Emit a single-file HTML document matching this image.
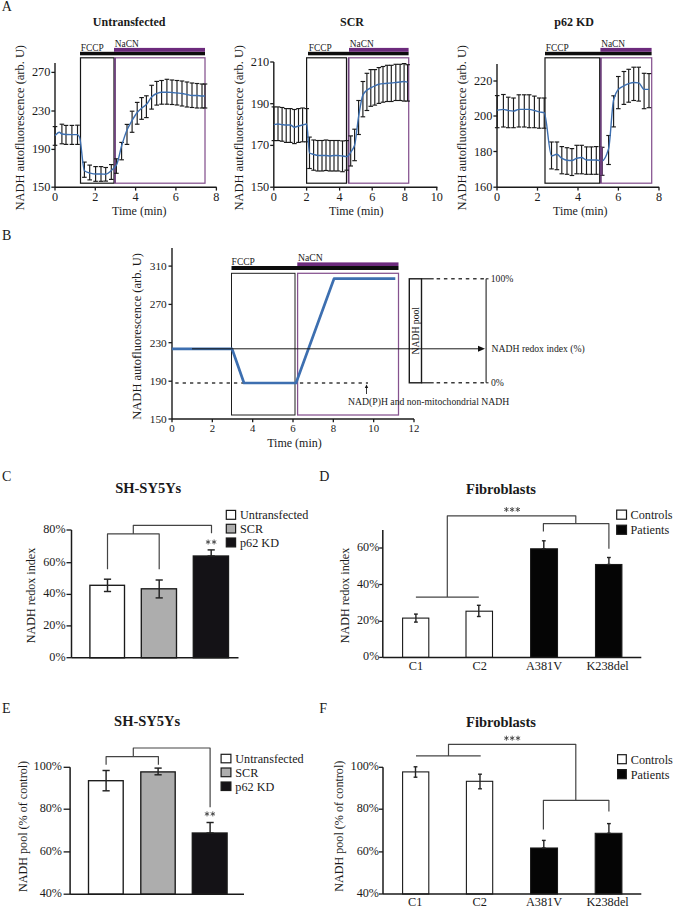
<!DOCTYPE html>
<html><head><meta charset="utf-8"><style>
html,body{margin:0;padding:0;background:#fff;overflow:hidden;}
svg{display:block;font-family:'Liberation Serif', serif;}
</style></head><body>
<svg width="675" height="908" viewBox="0 0 675 908">
<rect width="675" height="908" fill="#fff"/>
<text x="1.8" y="11" text-anchor="start" font-size="14" fill="#1a1a1a" >A</text>
<text x="2" y="239.9" text-anchor="start" font-size="14" fill="#1a1a1a" >B</text>
<text x="2" y="481.3" text-anchor="start" font-size="14" fill="#1a1a1a" >C</text>
<text x="319.3" y="481.3" text-anchor="start" font-size="14" fill="#1a1a1a" >D</text>
<text x="2" y="712.7" text-anchor="start" font-size="14" fill="#1a1a1a" >E</text>
<text x="319.2" y="712.7" text-anchor="start" font-size="14" fill="#1a1a1a" >F</text>
<text x="92.8" y="26.3" text-anchor="start" font-size="12" font-weight="bold" fill="#1a1a1a" >Untransfected</text>
<rect x="80" y="51.8" width="125" height="3.5" fill="#0d0d0d"/>
<rect x="114" y="47.9" width="91" height="3.9" fill="#6c2a7c"/>
<text x="80.8" y="50.6" text-anchor="start" font-size="9.4" fill="#1a1a1a" >FCCP</text>
<text x="114.8" y="47.1" text-anchor="start" font-size="9.4" fill="#1a1a1a" >NaCN</text>
<rect x="80.5" y="57.8" width="33.5" height="125.4" fill="none" stroke="#151515" stroke-width="1.2"/>
<rect x="115" y="57.8" width="90" height="125.4" fill="none" stroke="#85528f" stroke-width="1.25"/>
<line x1="115" y1="57.8" x2="115" y2="183.2" stroke="#6a3f78" stroke-width="1.6" />
<line x1="55" y1="63" x2="55" y2="187.2" stroke="#1a1a1a" stroke-width="1.4" />
<line x1="55" y1="187.2" x2="216.6" y2="187.2" stroke="#1a1a1a" stroke-width="1.4" />
<line x1="51.4" y1="72.4" x2="55" y2="72.4" stroke="#1a1a1a" stroke-width="1.3" />
<text x="50.4" y="76.4" text-anchor="end" font-size="12.3" fill="#1a1a1a" >270</text>
<line x1="51.4" y1="111" x2="55" y2="111" stroke="#1a1a1a" stroke-width="1.3" />
<text x="50.4" y="115" text-anchor="end" font-size="12.3" fill="#1a1a1a" >230</text>
<line x1="51.4" y1="149.4" x2="55" y2="149.4" stroke="#1a1a1a" stroke-width="1.3" />
<text x="50.4" y="153.4" text-anchor="end" font-size="12.3" fill="#1a1a1a" >190</text>
<line x1="51.4" y1="187.2" x2="55" y2="187.2" stroke="#1a1a1a" stroke-width="1.3" />
<text x="50.4" y="191.2" text-anchor="end" font-size="12.3" fill="#1a1a1a" >150</text>
<line x1="55" y1="187.2" x2="55" y2="190.6" stroke="#1a1a1a" stroke-width="1.3" />
<text x="55" y="201" text-anchor="middle" font-size="12.2" fill="#1a1a1a" >0</text>
<line x1="95.3" y1="187.2" x2="95.3" y2="190.6" stroke="#1a1a1a" stroke-width="1.3" />
<text x="95.3" y="201" text-anchor="middle" font-size="12.2" fill="#1a1a1a" >2</text>
<line x1="135.6" y1="187.2" x2="135.6" y2="190.6" stroke="#1a1a1a" stroke-width="1.3" />
<text x="135.6" y="201" text-anchor="middle" font-size="12.2" fill="#1a1a1a" >4</text>
<line x1="175.9" y1="187.2" x2="175.9" y2="190.6" stroke="#1a1a1a" stroke-width="1.3" />
<text x="175.9" y="201" text-anchor="middle" font-size="12.2" fill="#1a1a1a" >6</text>
<line x1="216.4" y1="187.2" x2="216.4" y2="190.6" stroke="#1a1a1a" stroke-width="1.3" />
<text x="216.4" y="201" text-anchor="middle" font-size="12.2" fill="#1a1a1a" >8</text>
<text x="112" y="214.6" text-anchor="start" font-size="12" fill="#1a1a1a" >Time (min)</text>
<text transform="translate(24,127.75) rotate(-90)" text-anchor="middle" font-size="12.4" fill="#1a1a1a"  textLength="165.5" lengthAdjust="spacingAndGlyphs">NADH autofluorescence (arb. U)</text>
<line x1="55" y1="126.6" x2="55" y2="145.3" stroke="#1a1a1a" stroke-width="1.15" />
<line x1="52.7" y1="126.6" x2="57.3" y2="126.6" stroke="#1a1a1a" stroke-width="1.15" />
<line x1="52.7" y1="145.3" x2="57.3" y2="145.3" stroke="#1a1a1a" stroke-width="1.15" />
<line x1="61.9" y1="124.2" x2="61.9" y2="143.8" stroke="#1a1a1a" stroke-width="1.15" />
<line x1="59.6" y1="124.2" x2="64.2" y2="124.2" stroke="#1a1a1a" stroke-width="1.15" />
<line x1="59.6" y1="143.8" x2="64.2" y2="143.8" stroke="#1a1a1a" stroke-width="1.15" />
<line x1="66" y1="125.4" x2="66" y2="144.4" stroke="#1a1a1a" stroke-width="1.15" />
<line x1="63.7" y1="125.4" x2="68.3" y2="125.4" stroke="#1a1a1a" stroke-width="1.15" />
<line x1="63.7" y1="144.4" x2="68.3" y2="144.4" stroke="#1a1a1a" stroke-width="1.15" />
<line x1="71.9" y1="125.4" x2="71.9" y2="144.4" stroke="#1a1a1a" stroke-width="1.15" />
<line x1="69.6" y1="125.4" x2="74.2" y2="125.4" stroke="#1a1a1a" stroke-width="1.15" />
<line x1="69.6" y1="144.4" x2="74.2" y2="144.4" stroke="#1a1a1a" stroke-width="1.15" />
<line x1="77.5" y1="125.2" x2="77.5" y2="144.4" stroke="#1a1a1a" stroke-width="1.15" />
<line x1="75.2" y1="125.2" x2="79.8" y2="125.2" stroke="#1a1a1a" stroke-width="1.15" />
<line x1="75.2" y1="144.4" x2="79.8" y2="144.4" stroke="#1a1a1a" stroke-width="1.15" />
<line x1="84.4" y1="162.1" x2="84.4" y2="177.3" stroke="#1a1a1a" stroke-width="1.15" />
<line x1="82.1" y1="162.1" x2="86.7" y2="162.1" stroke="#1a1a1a" stroke-width="1.15" />
<line x1="82.1" y1="177.3" x2="86.7" y2="177.3" stroke="#1a1a1a" stroke-width="1.15" />
<line x1="89.7" y1="165.1" x2="89.7" y2="179.9" stroke="#1a1a1a" stroke-width="1.15" />
<line x1="87.4" y1="165.1" x2="92" y2="165.1" stroke="#1a1a1a" stroke-width="1.15" />
<line x1="87.4" y1="179.9" x2="92" y2="179.9" stroke="#1a1a1a" stroke-width="1.15" />
<line x1="95.6" y1="166.6" x2="95.6" y2="181.3" stroke="#1a1a1a" stroke-width="1.15" />
<line x1="93.3" y1="166.6" x2="97.9" y2="166.6" stroke="#1a1a1a" stroke-width="1.15" />
<line x1="93.3" y1="181.3" x2="97.9" y2="181.3" stroke="#1a1a1a" stroke-width="1.15" />
<line x1="101" y1="166.6" x2="101" y2="181.3" stroke="#1a1a1a" stroke-width="1.15" />
<line x1="98.7" y1="166.6" x2="103.3" y2="166.6" stroke="#1a1a1a" stroke-width="1.15" />
<line x1="98.7" y1="181.3" x2="103.3" y2="181.3" stroke="#1a1a1a" stroke-width="1.15" />
<line x1="105.7" y1="167.5" x2="105.7" y2="181.1" stroke="#1a1a1a" stroke-width="1.15" />
<line x1="103.4" y1="167.5" x2="108" y2="167.5" stroke="#1a1a1a" stroke-width="1.15" />
<line x1="103.4" y1="181.1" x2="108" y2="181.1" stroke="#1a1a1a" stroke-width="1.15" />
<line x1="111.3" y1="164.6" x2="111.3" y2="179.4" stroke="#1a1a1a" stroke-width="1.15" />
<line x1="109" y1="164.6" x2="113.6" y2="164.6" stroke="#1a1a1a" stroke-width="1.15" />
<line x1="109" y1="179.4" x2="113.6" y2="179.4" stroke="#1a1a1a" stroke-width="1.15" />
<line x1="116.4" y1="158.8" x2="116.4" y2="173.3" stroke="#1a1a1a" stroke-width="1.15" />
<line x1="114.1" y1="158.8" x2="118.7" y2="158.8" stroke="#1a1a1a" stroke-width="1.15" />
<line x1="114.1" y1="173.3" x2="118.7" y2="173.3" stroke="#1a1a1a" stroke-width="1.15" />
<line x1="121.6" y1="142.4" x2="121.6" y2="159.8" stroke="#1a1a1a" stroke-width="1.15" />
<line x1="119.3" y1="142.4" x2="123.9" y2="142.4" stroke="#1a1a1a" stroke-width="1.15" />
<line x1="119.3" y1="159.8" x2="123.9" y2="159.8" stroke="#1a1a1a" stroke-width="1.15" />
<line x1="127" y1="124.4" x2="127" y2="144.4" stroke="#1a1a1a" stroke-width="1.15" />
<line x1="124.7" y1="124.4" x2="129.3" y2="124.4" stroke="#1a1a1a" stroke-width="1.15" />
<line x1="124.7" y1="144.4" x2="129.3" y2="144.4" stroke="#1a1a1a" stroke-width="1.15" />
<line x1="132.1" y1="111.2" x2="132.1" y2="132.3" stroke="#1a1a1a" stroke-width="1.15" />
<line x1="129.8" y1="111.2" x2="134.4" y2="111.2" stroke="#1a1a1a" stroke-width="1.15" />
<line x1="129.8" y1="132.3" x2="134.4" y2="132.3" stroke="#1a1a1a" stroke-width="1.15" />
<line x1="137.2" y1="102.4" x2="137.2" y2="124.2" stroke="#1a1a1a" stroke-width="1.15" />
<line x1="134.9" y1="102.4" x2="139.5" y2="102.4" stroke="#1a1a1a" stroke-width="1.15" />
<line x1="134.9" y1="124.2" x2="139.5" y2="124.2" stroke="#1a1a1a" stroke-width="1.15" />
<line x1="141.6" y1="97.6" x2="141.6" y2="119.3" stroke="#1a1a1a" stroke-width="1.15" />
<line x1="139.3" y1="97.6" x2="143.9" y2="97.6" stroke="#1a1a1a" stroke-width="1.15" />
<line x1="139.3" y1="119.3" x2="143.9" y2="119.3" stroke="#1a1a1a" stroke-width="1.15" />
<line x1="146.4" y1="95.8" x2="146.4" y2="117.6" stroke="#1a1a1a" stroke-width="1.15" />
<line x1="144.1" y1="95.8" x2="148.7" y2="95.8" stroke="#1a1a1a" stroke-width="1.15" />
<line x1="144.1" y1="117.6" x2="148.7" y2="117.6" stroke="#1a1a1a" stroke-width="1.15" />
<line x1="151.6" y1="85.3" x2="151.6" y2="109.1" stroke="#1a1a1a" stroke-width="1.15" />
<line x1="149.3" y1="85.3" x2="153.9" y2="85.3" stroke="#1a1a1a" stroke-width="1.15" />
<line x1="149.3" y1="109.1" x2="153.9" y2="109.1" stroke="#1a1a1a" stroke-width="1.15" />
<line x1="156.7" y1="81.4" x2="156.7" y2="105.1" stroke="#1a1a1a" stroke-width="1.15" />
<line x1="154.4" y1="81.4" x2="159" y2="81.4" stroke="#1a1a1a" stroke-width="1.15" />
<line x1="154.4" y1="105.1" x2="159" y2="105.1" stroke="#1a1a1a" stroke-width="1.15" />
<line x1="161.6" y1="80.5" x2="161.6" y2="104.2" stroke="#1a1a1a" stroke-width="1.15" />
<line x1="159.3" y1="80.5" x2="163.9" y2="80.5" stroke="#1a1a1a" stroke-width="1.15" />
<line x1="159.3" y1="104.2" x2="163.9" y2="104.2" stroke="#1a1a1a" stroke-width="1.15" />
<line x1="166.9" y1="79.3" x2="166.9" y2="104.2" stroke="#1a1a1a" stroke-width="1.15" />
<line x1="164.6" y1="79.3" x2="169.2" y2="79.3" stroke="#1a1a1a" stroke-width="1.15" />
<line x1="164.6" y1="104.2" x2="169.2" y2="104.2" stroke="#1a1a1a" stroke-width="1.15" />
<line x1="172" y1="80" x2="172" y2="104.5" stroke="#1a1a1a" stroke-width="1.15" />
<line x1="169.7" y1="80" x2="174.3" y2="80" stroke="#1a1a1a" stroke-width="1.15" />
<line x1="169.7" y1="104.5" x2="174.3" y2="104.5" stroke="#1a1a1a" stroke-width="1.15" />
<line x1="177" y1="80.5" x2="177" y2="105" stroke="#1a1a1a" stroke-width="1.15" />
<line x1="174.7" y1="80.5" x2="179.3" y2="80.5" stroke="#1a1a1a" stroke-width="1.15" />
<line x1="174.7" y1="105" x2="179.3" y2="105" stroke="#1a1a1a" stroke-width="1.15" />
<line x1="182" y1="81" x2="182" y2="106" stroke="#1a1a1a" stroke-width="1.15" />
<line x1="179.7" y1="81" x2="184.3" y2="81" stroke="#1a1a1a" stroke-width="1.15" />
<line x1="179.7" y1="106" x2="184.3" y2="106" stroke="#1a1a1a" stroke-width="1.15" />
<line x1="187" y1="82" x2="187" y2="107" stroke="#1a1a1a" stroke-width="1.15" />
<line x1="184.7" y1="82" x2="189.3" y2="82" stroke="#1a1a1a" stroke-width="1.15" />
<line x1="184.7" y1="107" x2="189.3" y2="107" stroke="#1a1a1a" stroke-width="1.15" />
<line x1="192" y1="83" x2="192" y2="107.5" stroke="#1a1a1a" stroke-width="1.15" />
<line x1="189.7" y1="83" x2="194.3" y2="83" stroke="#1a1a1a" stroke-width="1.15" />
<line x1="189.7" y1="107.5" x2="194.3" y2="107.5" stroke="#1a1a1a" stroke-width="1.15" />
<line x1="197" y1="83.5" x2="197" y2="108" stroke="#1a1a1a" stroke-width="1.15" />
<line x1="194.7" y1="83.5" x2="199.3" y2="83.5" stroke="#1a1a1a" stroke-width="1.15" />
<line x1="194.7" y1="108" x2="199.3" y2="108" stroke="#1a1a1a" stroke-width="1.15" />
<line x1="202" y1="84" x2="202" y2="108" stroke="#1a1a1a" stroke-width="1.15" />
<line x1="199.7" y1="84" x2="204.3" y2="84" stroke="#1a1a1a" stroke-width="1.15" />
<line x1="199.7" y1="108" x2="204.3" y2="108" stroke="#1a1a1a" stroke-width="1.15" />
<line x1="205" y1="84" x2="205" y2="108" stroke="#1a1a1a" stroke-width="1.15" />
<line x1="202.7" y1="84" x2="207.3" y2="84" stroke="#1a1a1a" stroke-width="1.15" />
<line x1="202.7" y1="108" x2="207.3" y2="108" stroke="#1a1a1a" stroke-width="1.15" />
<path d="M55,135.5 C56.4,134.4 57.8,132.2 59.2,132.2 C60.13,132.2 61.07,133.8 62,134 C63.33,134.29 64.67,134.46 66,134.5 C68,134.56 70,134.6 72,134.6 C73.83,134.6 75.67,134.6 77.5,134.6 C78.17,134.6 78.83,135.76 79.5,137 C81.13,140.04 82.77,169.35 84.4,170.7 C86.17,172.16 87.93,172.57 89.7,173 C91.67,173.48 93.63,174 95.6,174 C97.4,174 99.2,174 101,174 C102.57,174 104.13,174.2 105.7,174.2 C107.57,174.2 109.43,172.01 111.3,170.5 C113,169.12 114.7,167.95 116.4,165.2 C118.13,162.39 119.87,151.7 121.6,146 C123.4,140.08 125.2,134.14 127,130 C128.7,126.09 130.4,123.29 132.1,120.4 C133.8,117.51 135.5,114.53 137.2,112.5 C138.67,110.75 140.13,109.47 141.6,108.2 C143.2,106.82 144.8,106.1 146.4,104.5 C148.13,102.77 149.87,98.61 151.6,97 C153.3,95.42 155,94.15 156.7,93.5 C158.33,92.88 159.97,92.2 161.6,92.2 C163.37,92.2 165.13,92.2 166.9,92.2 C168.6,92.2 170.3,92.37 172,92.5 C173.67,92.62 175.33,92.83 177,93 C178.67,93.17 180.33,93.28 182,93.5 C183.67,93.72 185.33,94.17 187,94.5 C188.67,94.83 190.33,95.5 192,95.5 C193.67,95.5 195.33,95.5 197,95.5 C198.67,95.5 200.33,96 202,96 C203,96 204,96 205,96" fill="none" stroke="#3d6fb0" stroke-width="1.4"/>
<text x="340" y="26.3" text-anchor="start" font-size="12" font-weight="bold" fill="#1a1a1a" >SCR</text>
<rect x="308" y="51.8" width="100.6" height="3.5" fill="#0d0d0d"/>
<rect x="349" y="47.9" width="59.6" height="3.9" fill="#6c2a7c"/>
<text x="308.8" y="50.6" text-anchor="start" font-size="9.4" fill="#1a1a1a" >FCCP</text>
<text x="349.8" y="47.1" text-anchor="start" font-size="9.4" fill="#1a1a1a" >NaCN</text>
<rect x="306.6" y="57.8" width="39.9" height="125.4" fill="none" stroke="#151515" stroke-width="1.2"/>
<rect x="348.6" y="57.8" width="60.1" height="125.4" fill="none" stroke="#85528f" stroke-width="1.25"/>
<line x1="348.6" y1="57.8" x2="348.6" y2="183.2" stroke="#6a3f78" stroke-width="1.6" />
<line x1="273.8" y1="62" x2="273.8" y2="187.2" stroke="#1a1a1a" stroke-width="1.4" />
<line x1="273.8" y1="187.2" x2="437.4" y2="187.2" stroke="#1a1a1a" stroke-width="1.4" />
<line x1="270.2" y1="62" x2="273.8" y2="62" stroke="#1a1a1a" stroke-width="1.3" />
<text x="269.2" y="66" text-anchor="end" font-size="12.3" fill="#1a1a1a" >210</text>
<line x1="270.2" y1="103.7" x2="273.8" y2="103.7" stroke="#1a1a1a" stroke-width="1.3" />
<text x="269.2" y="107.7" text-anchor="end" font-size="12.3" fill="#1a1a1a" >190</text>
<line x1="270.2" y1="145.4" x2="273.8" y2="145.4" stroke="#1a1a1a" stroke-width="1.3" />
<text x="269.2" y="149.4" text-anchor="end" font-size="12.3" fill="#1a1a1a" >170</text>
<line x1="270.2" y1="187.2" x2="273.8" y2="187.2" stroke="#1a1a1a" stroke-width="1.3" />
<text x="269.2" y="191.2" text-anchor="end" font-size="12.3" fill="#1a1a1a" >150</text>
<line x1="273.8" y1="187.2" x2="273.8" y2="190.6" stroke="#1a1a1a" stroke-width="1.3" />
<text x="273.8" y="201" text-anchor="middle" font-size="12.2" fill="#1a1a1a" >0</text>
<line x1="306.6" y1="187.2" x2="306.6" y2="190.6" stroke="#1a1a1a" stroke-width="1.3" />
<text x="306.6" y="201" text-anchor="middle" font-size="12.2" fill="#1a1a1a" >2</text>
<line x1="339.6" y1="187.2" x2="339.6" y2="190.6" stroke="#1a1a1a" stroke-width="1.3" />
<text x="339.6" y="201" text-anchor="middle" font-size="12.2" fill="#1a1a1a" >4</text>
<line x1="372.2" y1="187.2" x2="372.2" y2="190.6" stroke="#1a1a1a" stroke-width="1.3" />
<text x="372.2" y="201" text-anchor="middle" font-size="12.2" fill="#1a1a1a" >6</text>
<line x1="404.8" y1="187.2" x2="404.8" y2="190.6" stroke="#1a1a1a" stroke-width="1.3" />
<text x="404.8" y="201" text-anchor="middle" font-size="12.2" fill="#1a1a1a" >8</text>
<line x1="436.8" y1="187.2" x2="436.8" y2="190.6" stroke="#1a1a1a" stroke-width="1.3" />
<text x="436.8" y="201" text-anchor="middle" font-size="12.2" fill="#1a1a1a" >10</text>
<text x="329" y="214.6" text-anchor="start" font-size="12" fill="#1a1a1a" >Time (min)</text>
<text transform="translate(243,127.75) rotate(-90)" text-anchor="middle" font-size="12.4" fill="#1a1a1a"  textLength="165.5" lengthAdjust="spacingAndGlyphs">NADH autofluorescence (arb. U)</text>
<line x1="273.9" y1="106.9" x2="273.9" y2="140.6" stroke="#1a1a1a" stroke-width="1.15" />
<line x1="271.6" y1="106.9" x2="276.2" y2="106.9" stroke="#1a1a1a" stroke-width="1.15" />
<line x1="271.6" y1="140.6" x2="276.2" y2="140.6" stroke="#1a1a1a" stroke-width="1.15" />
<line x1="278" y1="106.9" x2="278" y2="140.6" stroke="#1a1a1a" stroke-width="1.15" />
<line x1="275.7" y1="106.9" x2="280.3" y2="106.9" stroke="#1a1a1a" stroke-width="1.15" />
<line x1="275.7" y1="140.6" x2="280.3" y2="140.6" stroke="#1a1a1a" stroke-width="1.15" />
<line x1="282.1" y1="107.5" x2="282.1" y2="141.2" stroke="#1a1a1a" stroke-width="1.15" />
<line x1="279.8" y1="107.5" x2="284.4" y2="107.5" stroke="#1a1a1a" stroke-width="1.15" />
<line x1="279.8" y1="141.2" x2="284.4" y2="141.2" stroke="#1a1a1a" stroke-width="1.15" />
<line x1="286.2" y1="108.6" x2="286.2" y2="142.4" stroke="#1a1a1a" stroke-width="1.15" />
<line x1="283.9" y1="108.6" x2="288.5" y2="108.6" stroke="#1a1a1a" stroke-width="1.15" />
<line x1="283.9" y1="142.4" x2="288.5" y2="142.4" stroke="#1a1a1a" stroke-width="1.15" />
<line x1="290.3" y1="108.6" x2="290.3" y2="142.4" stroke="#1a1a1a" stroke-width="1.15" />
<line x1="288" y1="108.6" x2="292.6" y2="108.6" stroke="#1a1a1a" stroke-width="1.15" />
<line x1="288" y1="142.4" x2="292.6" y2="142.4" stroke="#1a1a1a" stroke-width="1.15" />
<line x1="294.4" y1="109.5" x2="294.4" y2="143.6" stroke="#1a1a1a" stroke-width="1.15" />
<line x1="292.1" y1="109.5" x2="296.7" y2="109.5" stroke="#1a1a1a" stroke-width="1.15" />
<line x1="292.1" y1="143.6" x2="296.7" y2="143.6" stroke="#1a1a1a" stroke-width="1.15" />
<line x1="298.5" y1="108.6" x2="298.5" y2="142.4" stroke="#1a1a1a" stroke-width="1.15" />
<line x1="296.2" y1="108.6" x2="300.8" y2="108.6" stroke="#1a1a1a" stroke-width="1.15" />
<line x1="296.2" y1="142.4" x2="300.8" y2="142.4" stroke="#1a1a1a" stroke-width="1.15" />
<line x1="302.6" y1="108" x2="302.6" y2="141.8" stroke="#1a1a1a" stroke-width="1.15" />
<line x1="300.3" y1="108" x2="304.9" y2="108" stroke="#1a1a1a" stroke-width="1.15" />
<line x1="300.3" y1="141.8" x2="304.9" y2="141.8" stroke="#1a1a1a" stroke-width="1.15" />
<line x1="306.7" y1="108.6" x2="306.7" y2="141.8" stroke="#1a1a1a" stroke-width="1.15" />
<line x1="304.4" y1="108.6" x2="309" y2="108.6" stroke="#1a1a1a" stroke-width="1.15" />
<line x1="304.4" y1="141.8" x2="309" y2="141.8" stroke="#1a1a1a" stroke-width="1.15" />
<line x1="309.5" y1="137.1" x2="309.5" y2="168.5" stroke="#1a1a1a" stroke-width="1.15" />
<line x1="307.2" y1="137.1" x2="311.8" y2="137.1" stroke="#1a1a1a" stroke-width="1.15" />
<line x1="307.2" y1="168.5" x2="311.8" y2="168.5" stroke="#1a1a1a" stroke-width="1.15" />
<line x1="313.6" y1="140" x2="313.6" y2="170.2" stroke="#1a1a1a" stroke-width="1.15" />
<line x1="311.3" y1="140" x2="315.9" y2="140" stroke="#1a1a1a" stroke-width="1.15" />
<line x1="311.3" y1="170.2" x2="315.9" y2="170.2" stroke="#1a1a1a" stroke-width="1.15" />
<line x1="317.8" y1="140.5" x2="317.8" y2="171" stroke="#1a1a1a" stroke-width="1.15" />
<line x1="315.5" y1="140.5" x2="320.1" y2="140.5" stroke="#1a1a1a" stroke-width="1.15" />
<line x1="315.5" y1="171" x2="320.1" y2="171" stroke="#1a1a1a" stroke-width="1.15" />
<line x1="322" y1="140.5" x2="322" y2="171" stroke="#1a1a1a" stroke-width="1.15" />
<line x1="319.7" y1="140.5" x2="324.3" y2="140.5" stroke="#1a1a1a" stroke-width="1.15" />
<line x1="319.7" y1="171" x2="324.3" y2="171" stroke="#1a1a1a" stroke-width="1.15" />
<line x1="326" y1="140" x2="326" y2="170.5" stroke="#1a1a1a" stroke-width="1.15" />
<line x1="323.7" y1="140" x2="328.3" y2="140" stroke="#1a1a1a" stroke-width="1.15" />
<line x1="323.7" y1="170.5" x2="328.3" y2="170.5" stroke="#1a1a1a" stroke-width="1.15" />
<line x1="330" y1="140.5" x2="330" y2="171" stroke="#1a1a1a" stroke-width="1.15" />
<line x1="327.7" y1="140.5" x2="332.3" y2="140.5" stroke="#1a1a1a" stroke-width="1.15" />
<line x1="327.7" y1="171" x2="332.3" y2="171" stroke="#1a1a1a" stroke-width="1.15" />
<line x1="334" y1="140.5" x2="334" y2="171" stroke="#1a1a1a" stroke-width="1.15" />
<line x1="331.7" y1="140.5" x2="336.3" y2="140.5" stroke="#1a1a1a" stroke-width="1.15" />
<line x1="331.7" y1="171" x2="336.3" y2="171" stroke="#1a1a1a" stroke-width="1.15" />
<line x1="338" y1="140.5" x2="338" y2="171" stroke="#1a1a1a" stroke-width="1.15" />
<line x1="335.7" y1="140.5" x2="340.3" y2="140.5" stroke="#1a1a1a" stroke-width="1.15" />
<line x1="335.7" y1="171" x2="340.3" y2="171" stroke="#1a1a1a" stroke-width="1.15" />
<line x1="342.5" y1="140.9" x2="342.5" y2="171.7" stroke="#1a1a1a" stroke-width="1.15" />
<line x1="340.2" y1="140.9" x2="344.8" y2="140.9" stroke="#1a1a1a" stroke-width="1.15" />
<line x1="340.2" y1="171.7" x2="344.8" y2="171.7" stroke="#1a1a1a" stroke-width="1.15" />
<line x1="346.7" y1="140.6" x2="346.7" y2="170.2" stroke="#1a1a1a" stroke-width="1.15" />
<line x1="344.4" y1="140.6" x2="349" y2="140.6" stroke="#1a1a1a" stroke-width="1.15" />
<line x1="344.4" y1="170.2" x2="349" y2="170.2" stroke="#1a1a1a" stroke-width="1.15" />
<line x1="350.7" y1="135.9" x2="350.7" y2="166" stroke="#1a1a1a" stroke-width="1.15" />
<line x1="348.4" y1="135.9" x2="353" y2="135.9" stroke="#1a1a1a" stroke-width="1.15" />
<line x1="348.4" y1="166" x2="353" y2="166" stroke="#1a1a1a" stroke-width="1.15" />
<line x1="354.6" y1="129.2" x2="354.6" y2="160.7" stroke="#1a1a1a" stroke-width="1.15" />
<line x1="352.3" y1="129.2" x2="356.9" y2="129.2" stroke="#1a1a1a" stroke-width="1.15" />
<line x1="352.3" y1="160.7" x2="356.9" y2="160.7" stroke="#1a1a1a" stroke-width="1.15" />
<line x1="358.6" y1="100.5" x2="358.6" y2="134.5" stroke="#1a1a1a" stroke-width="1.15" />
<line x1="356.3" y1="100.5" x2="360.9" y2="100.5" stroke="#1a1a1a" stroke-width="1.15" />
<line x1="356.3" y1="134.5" x2="360.9" y2="134.5" stroke="#1a1a1a" stroke-width="1.15" />
<line x1="362.9" y1="81.5" x2="362.9" y2="116.8" stroke="#1a1a1a" stroke-width="1.15" />
<line x1="360.6" y1="81.5" x2="365.2" y2="81.5" stroke="#1a1a1a" stroke-width="1.15" />
<line x1="360.6" y1="116.8" x2="365.2" y2="116.8" stroke="#1a1a1a" stroke-width="1.15" />
<line x1="366.9" y1="73.3" x2="366.9" y2="110.5" stroke="#1a1a1a" stroke-width="1.15" />
<line x1="364.6" y1="73.3" x2="369.2" y2="73.3" stroke="#1a1a1a" stroke-width="1.15" />
<line x1="364.6" y1="110.5" x2="369.2" y2="110.5" stroke="#1a1a1a" stroke-width="1.15" />
<line x1="370.8" y1="69.6" x2="370.8" y2="106.3" stroke="#1a1a1a" stroke-width="1.15" />
<line x1="368.5" y1="69.6" x2="373.1" y2="69.6" stroke="#1a1a1a" stroke-width="1.15" />
<line x1="368.5" y1="106.3" x2="373.1" y2="106.3" stroke="#1a1a1a" stroke-width="1.15" />
<line x1="374.8" y1="69.6" x2="374.8" y2="105.1" stroke="#1a1a1a" stroke-width="1.15" />
<line x1="372.5" y1="69.6" x2="377.1" y2="69.6" stroke="#1a1a1a" stroke-width="1.15" />
<line x1="372.5" y1="105.1" x2="377.1" y2="105.1" stroke="#1a1a1a" stroke-width="1.15" />
<line x1="378.9" y1="67.6" x2="378.9" y2="103.4" stroke="#1a1a1a" stroke-width="1.15" />
<line x1="376.6" y1="67.6" x2="381.2" y2="67.6" stroke="#1a1a1a" stroke-width="1.15" />
<line x1="376.6" y1="103.4" x2="381.2" y2="103.4" stroke="#1a1a1a" stroke-width="1.15" />
<line x1="383" y1="66.5" x2="383" y2="102.2" stroke="#1a1a1a" stroke-width="1.15" />
<line x1="380.7" y1="66.5" x2="385.3" y2="66.5" stroke="#1a1a1a" stroke-width="1.15" />
<line x1="380.7" y1="102.2" x2="385.3" y2="102.2" stroke="#1a1a1a" stroke-width="1.15" />
<line x1="387.2" y1="65.3" x2="387.2" y2="101.5" stroke="#1a1a1a" stroke-width="1.15" />
<line x1="384.9" y1="65.3" x2="389.5" y2="65.3" stroke="#1a1a1a" stroke-width="1.15" />
<line x1="384.9" y1="101.5" x2="389.5" y2="101.5" stroke="#1a1a1a" stroke-width="1.15" />
<line x1="391.3" y1="65.3" x2="391.3" y2="101.5" stroke="#1a1a1a" stroke-width="1.15" />
<line x1="389" y1="65.3" x2="393.6" y2="65.3" stroke="#1a1a1a" stroke-width="1.15" />
<line x1="389" y1="101.5" x2="393.6" y2="101.5" stroke="#1a1a1a" stroke-width="1.15" />
<line x1="395.8" y1="64.3" x2="395.8" y2="100.5" stroke="#1a1a1a" stroke-width="1.15" />
<line x1="393.5" y1="64.3" x2="398.1" y2="64.3" stroke="#1a1a1a" stroke-width="1.15" />
<line x1="393.5" y1="100.5" x2="398.1" y2="100.5" stroke="#1a1a1a" stroke-width="1.15" />
<line x1="400.1" y1="64.3" x2="400.1" y2="100.5" stroke="#1a1a1a" stroke-width="1.15" />
<line x1="397.8" y1="64.3" x2="402.4" y2="64.3" stroke="#1a1a1a" stroke-width="1.15" />
<line x1="397.8" y1="100.5" x2="402.4" y2="100.5" stroke="#1a1a1a" stroke-width="1.15" />
<line x1="404.1" y1="63.6" x2="404.1" y2="101.1" stroke="#1a1a1a" stroke-width="1.15" />
<line x1="401.8" y1="63.6" x2="406.4" y2="63.6" stroke="#1a1a1a" stroke-width="1.15" />
<line x1="401.8" y1="101.1" x2="406.4" y2="101.1" stroke="#1a1a1a" stroke-width="1.15" />
<line x1="407.6" y1="64.7" x2="407.6" y2="101.1" stroke="#1a1a1a" stroke-width="1.15" />
<line x1="405.3" y1="64.7" x2="409.9" y2="64.7" stroke="#1a1a1a" stroke-width="1.15" />
<line x1="405.3" y1="101.1" x2="409.9" y2="101.1" stroke="#1a1a1a" stroke-width="1.15" />
<path d="M273.9,124.6 C275.27,124.4 276.63,124 278,124 C279.37,124 280.73,124.44 282.1,124.6 C283.47,124.76 284.83,125 286.2,125 C287.57,125 288.93,125 290.3,125 C291.67,125 293.03,127.2 294.4,127.2 C295.77,127.2 297.13,126.36 298.5,126 C299.87,125.64 301.23,125.33 302.6,125 C303.97,124.67 305.33,124 306.7,124 C307.63,124 308.57,152.39 309.5,153 C310.87,153.89 312.23,153.89 313.6,154.3 C315,154.72 316.4,155.5 317.8,155.5 C319.2,155.5 320.6,155.5 322,155.5 C323.33,155.5 324.67,155.5 326,155.5 C327.33,155.5 328.67,156 330,156 C331.33,156 332.67,155.5 334,155.5 C335.33,155.5 336.67,155.5 338,155.5 C339.5,155.5 341,155.81 342.5,156 C343.9,156.18 345.3,156.6 346.7,156.6 C348.03,156.6 349.37,154.19 350.7,152.4 C352,150.66 353.3,149.01 354.6,145.2 C355.93,141.3 357.27,124.46 358.6,116.6 C360.03,108.15 361.47,97.95 362.9,95.1 C364.23,92.45 365.57,91.13 366.9,90.1 C368.2,89.09 369.5,88.61 370.8,87.9 C372.13,87.17 373.47,86.38 374.8,85.8 C376.17,85.21 377.53,84.62 378.9,84.3 C380.27,83.98 381.63,83.77 383,83.6 C384.4,83.43 385.8,83.29 387.2,83.2 C388.57,83.11 389.93,83.09 391.3,83 C392.8,82.9 394.3,82.67 395.8,82.5 C397.23,82.34 398.67,82.17 400.1,82 C401.43,81.84 402.77,81.5 404.1,81.5 C405.27,81.5 406.43,81.97 407.6,82.2" fill="none" stroke="#3d6fb0" stroke-width="1.4"/>
<text x="554.3" y="26.3" text-anchor="start" font-size="12" font-weight="bold" fill="#1a1a1a" >p62 KD</text>
<rect x="545" y="51.8" width="106.6" height="3.5" fill="#0d0d0d"/>
<rect x="600.4" y="47.9" width="51.2" height="3.9" fill="#6c2a7c"/>
<text x="545.8" y="50.6" text-anchor="start" font-size="9.4" fill="#1a1a1a" >FCCP</text>
<text x="601.2" y="47.1" text-anchor="start" font-size="9.4" fill="#1a1a1a" >NaCN</text>
<rect x="545" y="57.8" width="54.7" height="125.4" fill="none" stroke="#151515" stroke-width="1.2"/>
<rect x="600.8" y="57.8" width="50.9" height="125.4" fill="none" stroke="#85528f" stroke-width="1.25"/>
<line x1="600.8" y1="57.8" x2="600.8" y2="183.2" stroke="#6a3f78" stroke-width="1.6" />
<line x1="497" y1="64" x2="497" y2="187.2" stroke="#1a1a1a" stroke-width="1.4" />
<line x1="497" y1="187.2" x2="659.2" y2="187.2" stroke="#1a1a1a" stroke-width="1.4" />
<line x1="493.4" y1="81" x2="497" y2="81" stroke="#1a1a1a" stroke-width="1.3" />
<text x="492.4" y="85" text-anchor="end" font-size="12.3" fill="#1a1a1a" >220</text>
<line x1="493.4" y1="116" x2="497" y2="116" stroke="#1a1a1a" stroke-width="1.3" />
<text x="492.4" y="120" text-anchor="end" font-size="12.3" fill="#1a1a1a" >200</text>
<line x1="493.4" y1="151.5" x2="497" y2="151.5" stroke="#1a1a1a" stroke-width="1.3" />
<text x="492.4" y="155.5" text-anchor="end" font-size="12.3" fill="#1a1a1a" >180</text>
<line x1="493.4" y1="187.2" x2="497" y2="187.2" stroke="#1a1a1a" stroke-width="1.3" />
<text x="492.4" y="191.2" text-anchor="end" font-size="12.3" fill="#1a1a1a" >160</text>
<line x1="497" y1="187.2" x2="497" y2="190.6" stroke="#1a1a1a" stroke-width="1.3" />
<text x="497" y="201" text-anchor="middle" font-size="12.2" fill="#1a1a1a" >0</text>
<line x1="537.5" y1="187.2" x2="537.5" y2="190.6" stroke="#1a1a1a" stroke-width="1.3" />
<text x="537.5" y="201" text-anchor="middle" font-size="12.2" fill="#1a1a1a" >2</text>
<line x1="578" y1="187.2" x2="578" y2="190.6" stroke="#1a1a1a" stroke-width="1.3" />
<text x="578" y="201" text-anchor="middle" font-size="12.2" fill="#1a1a1a" >4</text>
<line x1="618.4" y1="187.2" x2="618.4" y2="190.6" stroke="#1a1a1a" stroke-width="1.3" />
<text x="618.4" y="201" text-anchor="middle" font-size="12.2" fill="#1a1a1a" >6</text>
<line x1="659" y1="187.2" x2="659" y2="190.6" stroke="#1a1a1a" stroke-width="1.3" />
<text x="659" y="201" text-anchor="middle" font-size="12.2" fill="#1a1a1a" >8</text>
<text x="553" y="214.6" text-anchor="start" font-size="12" fill="#1a1a1a" >Time (min)</text>
<text transform="translate(465.8,127.75) rotate(-90)" text-anchor="middle" font-size="12.4" fill="#1a1a1a"  textLength="165.5" lengthAdjust="spacingAndGlyphs">NADH autofluorescence (arb. U)</text>
<line x1="497.2" y1="95.6" x2="497.2" y2="127.7" stroke="#1a1a1a" stroke-width="1.15" />
<line x1="494.9" y1="95.6" x2="499.5" y2="95.6" stroke="#1a1a1a" stroke-width="1.15" />
<line x1="494.9" y1="127.7" x2="499.5" y2="127.7" stroke="#1a1a1a" stroke-width="1.15" />
<line x1="503.4" y1="94.5" x2="503.4" y2="127" stroke="#1a1a1a" stroke-width="1.15" />
<line x1="501.1" y1="94.5" x2="505.7" y2="94.5" stroke="#1a1a1a" stroke-width="1.15" />
<line x1="501.1" y1="127" x2="505.7" y2="127" stroke="#1a1a1a" stroke-width="1.15" />
<line x1="508.3" y1="97.2" x2="508.3" y2="127.7" stroke="#1a1a1a" stroke-width="1.15" />
<line x1="506" y1="97.2" x2="510.6" y2="97.2" stroke="#1a1a1a" stroke-width="1.15" />
<line x1="506" y1="127.7" x2="510.6" y2="127.7" stroke="#1a1a1a" stroke-width="1.15" />
<line x1="513.5" y1="98" x2="513.5" y2="127.7" stroke="#1a1a1a" stroke-width="1.15" />
<line x1="511.2" y1="98" x2="515.8" y2="98" stroke="#1a1a1a" stroke-width="1.15" />
<line x1="511.2" y1="127.7" x2="515.8" y2="127.7" stroke="#1a1a1a" stroke-width="1.15" />
<line x1="518.9" y1="94.8" x2="518.9" y2="127" stroke="#1a1a1a" stroke-width="1.15" />
<line x1="516.6" y1="94.8" x2="521.2" y2="94.8" stroke="#1a1a1a" stroke-width="1.15" />
<line x1="516.6" y1="127" x2="521.2" y2="127" stroke="#1a1a1a" stroke-width="1.15" />
<line x1="524.3" y1="94.8" x2="524.3" y2="127" stroke="#1a1a1a" stroke-width="1.15" />
<line x1="522" y1="94.8" x2="526.6" y2="94.8" stroke="#1a1a1a" stroke-width="1.15" />
<line x1="522" y1="127" x2="526.6" y2="127" stroke="#1a1a1a" stroke-width="1.15" />
<line x1="529.2" y1="94.8" x2="529.2" y2="127.7" stroke="#1a1a1a" stroke-width="1.15" />
<line x1="526.9" y1="94.8" x2="531.5" y2="94.8" stroke="#1a1a1a" stroke-width="1.15" />
<line x1="526.9" y1="127.7" x2="531.5" y2="127.7" stroke="#1a1a1a" stroke-width="1.15" />
<line x1="534.4" y1="96.1" x2="534.4" y2="127.7" stroke="#1a1a1a" stroke-width="1.15" />
<line x1="532.1" y1="96.1" x2="536.7" y2="96.1" stroke="#1a1a1a" stroke-width="1.15" />
<line x1="532.1" y1="127.7" x2="536.7" y2="127.7" stroke="#1a1a1a" stroke-width="1.15" />
<line x1="539.3" y1="98" x2="539.3" y2="128.2" stroke="#1a1a1a" stroke-width="1.15" />
<line x1="537" y1="98" x2="541.6" y2="98" stroke="#1a1a1a" stroke-width="1.15" />
<line x1="537" y1="128.2" x2="541.6" y2="128.2" stroke="#1a1a1a" stroke-width="1.15" />
<line x1="544.2" y1="98" x2="544.2" y2="128.2" stroke="#1a1a1a" stroke-width="1.15" />
<line x1="541.9" y1="98" x2="546.5" y2="98" stroke="#1a1a1a" stroke-width="1.15" />
<line x1="541.9" y1="128.2" x2="546.5" y2="128.2" stroke="#1a1a1a" stroke-width="1.15" />
<line x1="551.5" y1="142" x2="551.5" y2="168.9" stroke="#1a1a1a" stroke-width="1.15" />
<line x1="549.2" y1="142" x2="553.8" y2="142" stroke="#1a1a1a" stroke-width="1.15" />
<line x1="549.2" y1="168.9" x2="553.8" y2="168.9" stroke="#1a1a1a" stroke-width="1.15" />
<line x1="556.9" y1="142" x2="556.9" y2="169.7" stroke="#1a1a1a" stroke-width="1.15" />
<line x1="554.6" y1="142" x2="559.2" y2="142" stroke="#1a1a1a" stroke-width="1.15" />
<line x1="554.6" y1="169.7" x2="559.2" y2="169.7" stroke="#1a1a1a" stroke-width="1.15" />
<line x1="561.8" y1="146.6" x2="561.8" y2="173.8" stroke="#1a1a1a" stroke-width="1.15" />
<line x1="559.5" y1="146.6" x2="564.1" y2="146.6" stroke="#1a1a1a" stroke-width="1.15" />
<line x1="559.5" y1="173.8" x2="564.1" y2="173.8" stroke="#1a1a1a" stroke-width="1.15" />
<line x1="567" y1="147.7" x2="567" y2="174.3" stroke="#1a1a1a" stroke-width="1.15" />
<line x1="564.7" y1="147.7" x2="569.3" y2="147.7" stroke="#1a1a1a" stroke-width="1.15" />
<line x1="564.7" y1="174.3" x2="569.3" y2="174.3" stroke="#1a1a1a" stroke-width="1.15" />
<line x1="571.9" y1="148.6" x2="571.9" y2="175.5" stroke="#1a1a1a" stroke-width="1.15" />
<line x1="569.6" y1="148.6" x2="574.2" y2="148.6" stroke="#1a1a1a" stroke-width="1.15" />
<line x1="569.6" y1="175.5" x2="574.2" y2="175.5" stroke="#1a1a1a" stroke-width="1.15" />
<line x1="576.7" y1="145.3" x2="576.7" y2="173.8" stroke="#1a1a1a" stroke-width="1.15" />
<line x1="574.4" y1="145.3" x2="579" y2="145.3" stroke="#1a1a1a" stroke-width="1.15" />
<line x1="574.4" y1="173.8" x2="579" y2="173.8" stroke="#1a1a1a" stroke-width="1.15" />
<line x1="581.6" y1="145.3" x2="581.6" y2="173.8" stroke="#1a1a1a" stroke-width="1.15" />
<line x1="579.3" y1="145.3" x2="583.9" y2="145.3" stroke="#1a1a1a" stroke-width="1.15" />
<line x1="579.3" y1="173.8" x2="583.9" y2="173.8" stroke="#1a1a1a" stroke-width="1.15" />
<line x1="586.5" y1="146.9" x2="586.5" y2="174.3" stroke="#1a1a1a" stroke-width="1.15" />
<line x1="584.2" y1="146.9" x2="588.8" y2="146.9" stroke="#1a1a1a" stroke-width="1.15" />
<line x1="584.2" y1="174.3" x2="588.8" y2="174.3" stroke="#1a1a1a" stroke-width="1.15" />
<line x1="591.4" y1="146.9" x2="591.4" y2="174.3" stroke="#1a1a1a" stroke-width="1.15" />
<line x1="589.1" y1="146.9" x2="593.7" y2="146.9" stroke="#1a1a1a" stroke-width="1.15" />
<line x1="589.1" y1="174.3" x2="593.7" y2="174.3" stroke="#1a1a1a" stroke-width="1.15" />
<line x1="596.3" y1="146.6" x2="596.3" y2="174.3" stroke="#1a1a1a" stroke-width="1.15" />
<line x1="594" y1="146.6" x2="598.6" y2="146.6" stroke="#1a1a1a" stroke-width="1.15" />
<line x1="594" y1="174.3" x2="598.6" y2="174.3" stroke="#1a1a1a" stroke-width="1.15" />
<line x1="602.2" y1="147.3" x2="602.2" y2="175.3" stroke="#1a1a1a" stroke-width="1.15" />
<line x1="599.9" y1="147.3" x2="604.5" y2="147.3" stroke="#1a1a1a" stroke-width="1.15" />
<line x1="599.9" y1="175.3" x2="604.5" y2="175.3" stroke="#1a1a1a" stroke-width="1.15" />
<line x1="608.6" y1="135.5" x2="608.6" y2="164.5" stroke="#1a1a1a" stroke-width="1.15" />
<line x1="606.3" y1="135.5" x2="610.9" y2="135.5" stroke="#1a1a1a" stroke-width="1.15" />
<line x1="606.3" y1="164.5" x2="610.9" y2="164.5" stroke="#1a1a1a" stroke-width="1.15" />
<line x1="613.6" y1="95.8" x2="613.6" y2="126.9" stroke="#1a1a1a" stroke-width="1.15" />
<line x1="611.3" y1="95.8" x2="615.9" y2="95.8" stroke="#1a1a1a" stroke-width="1.15" />
<line x1="611.3" y1="126.9" x2="615.9" y2="126.9" stroke="#1a1a1a" stroke-width="1.15" />
<line x1="618.3" y1="76.5" x2="618.3" y2="108.7" stroke="#1a1a1a" stroke-width="1.15" />
<line x1="616" y1="76.5" x2="620.6" y2="76.5" stroke="#1a1a1a" stroke-width="1.15" />
<line x1="616" y1="108.7" x2="620.6" y2="108.7" stroke="#1a1a1a" stroke-width="1.15" />
<line x1="623.9" y1="71.5" x2="623.9" y2="104.4" stroke="#1a1a1a" stroke-width="1.15" />
<line x1="621.6" y1="71.5" x2="626.2" y2="71.5" stroke="#1a1a1a" stroke-width="1.15" />
<line x1="621.6" y1="104.4" x2="626.2" y2="104.4" stroke="#1a1a1a" stroke-width="1.15" />
<line x1="628.7" y1="69.3" x2="628.7" y2="102.2" stroke="#1a1a1a" stroke-width="1.15" />
<line x1="626.4" y1="69.3" x2="631" y2="69.3" stroke="#1a1a1a" stroke-width="1.15" />
<line x1="626.4" y1="102.2" x2="631" y2="102.2" stroke="#1a1a1a" stroke-width="1.15" />
<line x1="633.7" y1="67.2" x2="633.7" y2="100.5" stroke="#1a1a1a" stroke-width="1.15" />
<line x1="631.4" y1="67.2" x2="636" y2="67.2" stroke="#1a1a1a" stroke-width="1.15" />
<line x1="631.4" y1="100.5" x2="636" y2="100.5" stroke="#1a1a1a" stroke-width="1.15" />
<line x1="638.7" y1="67.2" x2="638.7" y2="101.1" stroke="#1a1a1a" stroke-width="1.15" />
<line x1="636.4" y1="67.2" x2="641" y2="67.2" stroke="#1a1a1a" stroke-width="1.15" />
<line x1="636.4" y1="101.1" x2="641" y2="101.1" stroke="#1a1a1a" stroke-width="1.15" />
<line x1="644.1" y1="73.3" x2="644.1" y2="108.7" stroke="#1a1a1a" stroke-width="1.15" />
<line x1="641.8" y1="73.3" x2="646.4" y2="73.3" stroke="#1a1a1a" stroke-width="1.15" />
<line x1="641.8" y1="108.7" x2="646.4" y2="108.7" stroke="#1a1a1a" stroke-width="1.15" />
<line x1="649" y1="73.6" x2="649" y2="107.7" stroke="#1a1a1a" stroke-width="1.15" />
<line x1="646.7" y1="73.6" x2="651.3" y2="73.6" stroke="#1a1a1a" stroke-width="1.15" />
<line x1="646.7" y1="107.7" x2="651.3" y2="107.7" stroke="#1a1a1a" stroke-width="1.15" />
<path d="M497.2,110.3 C499.27,110 501.33,109.4 503.4,109.4 C505.03,109.4 506.67,110.25 508.3,110.5 C510.03,110.77 511.77,111.1 513.5,111.1 C515.3,111.1 517.1,109.4 518.9,109.4 C520.7,109.4 522.5,109.4 524.3,109.4 C525.93,109.4 527.57,109.4 529.2,109.4 C530.93,109.4 532.67,110.08 534.4,110.5 C536.03,110.9 537.67,111.56 539.3,111.9 C540.93,112.24 542.57,112.21 544.2,112.7 C546.63,113.43 549.07,155.9 551.5,155.9 C553.3,155.9 555.1,154.3 556.9,154.3 C558.53,154.3 560.17,157.44 561.8,158.3 C563.53,159.21 565.27,160.17 567,160.3 C568.63,160.42 570.27,160.5 571.9,160.5 C573.5,160.5 575.1,158.69 576.7,158.3 C578.33,157.91 579.97,157.5 581.6,157.5 C583.23,157.5 584.87,160 586.5,160 C588.13,160 589.77,160 591.4,160 C593.03,160 594.67,160 596.3,160 C598.27,160 600.23,160.9 602.2,160.9 C604.33,160.9 606.47,155.75 608.6,148.8 C610.27,143.37 611.93,106.07 613.6,100 C615.17,94.3 616.73,90.99 618.3,89.4 C620.17,87.5 622.03,86.79 623.9,85.8 C625.5,84.95 627.1,84.08 628.7,83.6 C630.37,83.1 632.03,82.5 633.7,82.5 C635.37,82.5 637.03,82.65 638.7,82.9 C640.5,83.17 642.3,89.4 644.1,89.4 C645.73,89.4 647.37,89.4 649,89.4" fill="none" stroke="#3d6fb0" stroke-width="1.4"/>
<rect x="599.8" y="146.8" width="2.8" height="28.7" fill="#6d3d7b"/>
<line x1="172" y1="248" x2="172" y2="419" stroke="#1a1a1a" stroke-width="1.4" />
<line x1="172" y1="419" x2="414" y2="419" stroke="#1a1a1a" stroke-width="1.4" />
<line x1="168.5" y1="266.1" x2="172" y2="266.1" stroke="#1a1a1a" stroke-width="1.3" />
<text x="166.7" y="270" text-anchor="end" font-size="11.3" fill="#1a1a1a" >310</text>
<line x1="168.5" y1="304.4" x2="172" y2="304.4" stroke="#1a1a1a" stroke-width="1.3" />
<text x="166.7" y="308.3" text-anchor="end" font-size="11.3" fill="#1a1a1a" >270</text>
<line x1="168.5" y1="342.7" x2="172" y2="342.7" stroke="#1a1a1a" stroke-width="1.3" />
<text x="166.7" y="346.6" text-anchor="end" font-size="11.3" fill="#1a1a1a" >230</text>
<line x1="168.5" y1="381.2" x2="172" y2="381.2" stroke="#1a1a1a" stroke-width="1.3" />
<text x="166.7" y="385.1" text-anchor="end" font-size="11.3" fill="#1a1a1a" >190</text>
<line x1="168.5" y1="419" x2="172" y2="419" stroke="#1a1a1a" stroke-width="1.3" />
<text x="166.7" y="422.9" text-anchor="end" font-size="11.3" fill="#1a1a1a" >150</text>
<line x1="172" y1="419" x2="172" y2="422.3" stroke="#1a1a1a" stroke-width="1.3" />
<text x="172" y="432" text-anchor="middle" font-size="10.8" fill="#1a1a1a" >0</text>
<line x1="212.33" y1="419" x2="212.33" y2="422.3" stroke="#1a1a1a" stroke-width="1.3" />
<text x="212.33" y="432" text-anchor="middle" font-size="10.8" fill="#1a1a1a" >2</text>
<line x1="252.67" y1="419" x2="252.67" y2="422.3" stroke="#1a1a1a" stroke-width="1.3" />
<text x="252.67" y="432" text-anchor="middle" font-size="10.8" fill="#1a1a1a" >4</text>
<line x1="293" y1="419" x2="293" y2="422.3" stroke="#1a1a1a" stroke-width="1.3" />
<text x="293" y="432" text-anchor="middle" font-size="10.8" fill="#1a1a1a" >6</text>
<line x1="333.33" y1="419" x2="333.33" y2="422.3" stroke="#1a1a1a" stroke-width="1.3" />
<text x="333.33" y="432" text-anchor="middle" font-size="10.8" fill="#1a1a1a" >8</text>
<line x1="373.67" y1="419" x2="373.67" y2="422.3" stroke="#1a1a1a" stroke-width="1.3" />
<text x="373.67" y="432" text-anchor="middle" font-size="10.8" fill="#1a1a1a" >10</text>
<line x1="414" y1="419" x2="414" y2="422.3" stroke="#1a1a1a" stroke-width="1.3" />
<text x="414" y="432" text-anchor="middle" font-size="10.8" fill="#1a1a1a" >12</text>
<text x="267.2" y="447" text-anchor="start" font-size="12" fill="#1a1a1a" >Time (min)</text>
<text transform="translate(140.9,336.4) rotate(-90)" text-anchor="middle" font-size="12.5" fill="#1a1a1a" >NADH autofluorescence (arb. U)</text>
<rect x="231.5" y="266" width="167" height="4" fill="#0d0d0d"/>
<rect x="297.3" y="262.4" width="101.2" height="3.6" fill="#6c2a7c"/>
<text x="231.6" y="265.3" text-anchor="start" font-size="9.5" fill="#1a1a1a" >FCCP</text>
<text x="298" y="261.4" text-anchor="start" font-size="9.7" fill="#1a1a1a" >NaCN</text>
<rect x="231.5" y="273.3" width="63.5" height="141.7" fill="none" stroke="#1e1e1e" stroke-width="1"/>
<rect x="297.6" y="273.3" width="100.9" height="141.7" fill="none" stroke="#85528f" stroke-width="1.25"/>
<line x1="175.3" y1="383" x2="368" y2="383" stroke="#3a3a3a" stroke-width="1.5" stroke-dasharray="3.33 4"/>
<polyline points="172,348.8 232,348.8 244,383 296,383 334,278.7 395.3,278.7" fill="none" stroke="#3d6fb0" stroke-width="2.7" stroke-linejoin="round" />
<line x1="192" y1="348.8" x2="480" y2="348.8" stroke="#1a1a1a" stroke-width="1" />
<polygon points="478,345.8 485,348.8 478,351.8" fill="#111"/>
<line x1="366.5" y1="394" x2="366.5" y2="387" stroke="#222" stroke-width="0.9" />
<polygon points="364.8,388 366.5,384.6 368.2,388" fill="#111"/>
<text x="348.1" y="404.5" text-anchor="start" font-size="9.7" fill="#1a1a1a" >NAD(P)H and non-mitochondrial NADH</text>
<rect x="409.3" y="278.8" width="12.2" height="104" fill="none" stroke="#1a1a1a" stroke-width="1.4"/>
<text transform="translate(419.3,330.8) rotate(-90)" text-anchor="middle" font-size="9.7" fill="#1a1a1a" >NADH pool</text>
<line x1="421.3" y1="278.8" x2="433.7" y2="278.8" stroke="#1a1a1a" stroke-width="1.2" />
<line x1="421.3" y1="382.8" x2="433.7" y2="382.8" stroke="#1a1a1a" stroke-width="1.2" />
<line x1="436.6" y1="278.8" x2="485" y2="278.8" stroke="#3a3a3a" stroke-width="1.4" stroke-dasharray="3.5 3.8"/>
<line x1="436.6" y1="382.8" x2="485" y2="382.8" stroke="#3a3a3a" stroke-width="1.4" stroke-dasharray="3.5 3.8"/>
<line x1="486.1" y1="278.8" x2="486.1" y2="382.8" stroke="#222" stroke-width="1.1" />
<line x1="486.1" y1="278.8" x2="488.5" y2="278.8" stroke="#222" stroke-width="1.1" />
<line x1="486.1" y1="382.8" x2="488.5" y2="382.8" stroke="#222" stroke-width="1.1" />
<text x="490.7" y="282.2" text-anchor="start" font-size="9.7" fill="#1a1a1a" >100%</text>
<text x="491.5" y="352.4" text-anchor="start" font-size="9.7" fill="#1a1a1a" >NADH redox index (%)</text>
<text x="491" y="386.4" text-anchor="start" font-size="9.7" fill="#1a1a1a" >0%</text>
<text x="115.2" y="493.3" text-anchor="start" font-size="14.5" font-weight="bold" fill="#1a1a1a" >SH-SY5Ys</text>
<rect x="89.9" y="585.3" width="34.6" height="72.5" fill="#fff" stroke="#1a1a1a" stroke-width="1.35"/>
<rect x="141.3" y="588.8" width="35.2" height="69" fill="#adadad" stroke="#1a1a1a" stroke-width="1.35"/>
<rect x="193.3" y="556" width="35.2" height="101.8" fill="#141216" stroke="#1a1a1a" stroke-width="1.35"/>
<line x1="107.5" y1="579.2" x2="107.5" y2="591.5" stroke="#222" stroke-width="1.45" />
<line x1="103.9" y1="579.2" x2="111.1" y2="579.2" stroke="#222" stroke-width="1.45" />
<line x1="103.9" y1="591.5" x2="111.1" y2="591.5" stroke="#222" stroke-width="1.45" />
<line x1="159.2" y1="580" x2="159.2" y2="597.9" stroke="#222" stroke-width="1.45" />
<line x1="155.6" y1="580" x2="162.8" y2="580" stroke="#222" stroke-width="1.45" />
<line x1="155.6" y1="597.9" x2="162.8" y2="597.9" stroke="#222" stroke-width="1.45" />
<line x1="211.2" y1="549.9" x2="211.2" y2="556" stroke="#222" stroke-width="1.45" />
<line x1="207.6" y1="549.9" x2="214.8" y2="549.9" stroke="#222" stroke-width="1.45" />
<line x1="207.6" y1="556" x2="214.8" y2="556" stroke="#222" stroke-width="1.45" />
<line x1="71.5" y1="530" x2="71.5" y2="657.8" stroke="#1a1a1a" stroke-width="1.5" />
<line x1="71.5" y1="657.8" x2="238.5" y2="657.8" stroke="#1a1a1a" stroke-width="1.5" />
<line x1="66.5" y1="530" x2="71.5" y2="530" stroke="#1a1a1a" stroke-width="1.3" />
<text x="65.6" y="533" text-anchor="end" font-size="12.2" fill="#1a1a1a" >80%</text>
<line x1="66.5" y1="562.7" x2="71.5" y2="562.7" stroke="#1a1a1a" stroke-width="1.3" />
<text x="65.6" y="565.7" text-anchor="end" font-size="12.2" fill="#1a1a1a" >60%</text>
<line x1="66.5" y1="594.4" x2="71.5" y2="594.4" stroke="#1a1a1a" stroke-width="1.3" />
<text x="65.6" y="597.4" text-anchor="end" font-size="12.2" fill="#1a1a1a" >40%</text>
<line x1="66.5" y1="625.9" x2="71.5" y2="625.9" stroke="#1a1a1a" stroke-width="1.3" />
<text x="65.6" y="628.9" text-anchor="end" font-size="12.2" fill="#1a1a1a" >20%</text>
<line x1="66.5" y1="657.7" x2="71.5" y2="657.7" stroke="#1a1a1a" stroke-width="1.3" />
<text x="65.6" y="660.7" text-anchor="end" font-size="12.2" fill="#1a1a1a" >0%</text>
<text transform="translate(35,595.5) rotate(-90)" text-anchor="middle" font-size="12.1" fill="#1a1a1a" >NADH redox index</text>
<polyline points="107.5,569.3 107.5,533.9 159.2,533.9 159.2,569.3" fill="none" stroke="#444" stroke-width="1.2" stroke-linejoin="round" />
<polyline points="133.3,533.9 133.3,525.3 211.5,525.3 211.5,533.3" fill="none" stroke="#444" stroke-width="1.2" stroke-linejoin="round" />
<line x1="208.1" y1="539.5" x2="208.1" y2="544.5" stroke="#333" stroke-width="0.8" />
<line x1="205.93" y1="540.75" x2="210.27" y2="543.25" stroke="#333" stroke-width="0.8" />
<line x1="205.93" y1="543.25" x2="210.27" y2="540.75" stroke="#333" stroke-width="0.8" />
<line x1="214.1" y1="539.5" x2="214.1" y2="544.5" stroke="#333" stroke-width="0.8" />
<line x1="211.93" y1="540.75" x2="216.27" y2="543.25" stroke="#333" stroke-width="0.8" />
<line x1="211.93" y1="543.25" x2="216.27" y2="540.75" stroke="#333" stroke-width="0.8" />
<rect x="226.3" y="510.4" width="9.3" height="8.9" fill="#fff" stroke="#1a1a1a" stroke-width="1.2"/>
<text x="240" y="519.3" text-anchor="start" font-size="12.2" fill="#1a1a1a" >Untransfected</text>
<rect x="226.3" y="524.3" width="9.3" height="8.7" fill="#adadad" stroke="#1a1a1a" stroke-width="1.2"/>
<text x="240" y="533" text-anchor="start" font-size="12.2" fill="#1a1a1a" >SCR</text>
<rect x="226.3" y="538" width="9.3" height="8.9" fill="#141216" stroke="#1a1a1a" stroke-width="1.2"/>
<text x="240" y="546.9" text-anchor="start" font-size="12.2" fill="#1a1a1a" >p62 KD</text>
<text x="466.1" y="493.8" text-anchor="start" font-size="14.5" font-weight="bold" fill="#1a1a1a" >Fibroblasts</text>
<rect x="402.6" y="618.1" width="26.2" height="39.3" fill="#fff" stroke="#1a1a1a" stroke-width="1.1"/>
<rect x="466" y="611.2" width="26.5" height="46.2" fill="#fff" stroke="#1a1a1a" stroke-width="1.1"/>
<rect x="530.6" y="548.8" width="26.9" height="108.6" fill="#050505" stroke="#1a1a1a" stroke-width="1.1"/>
<rect x="595.5" y="564.5" width="26.4" height="92.9" fill="#050505" stroke="#1a1a1a" stroke-width="1.1"/>
<line x1="415.9" y1="614.1" x2="415.9" y2="622.1" stroke="#222" stroke-width="1.4" />
<line x1="414" y1="614.1" x2="417.8" y2="614.1" stroke="#222" stroke-width="1.4" />
<line x1="414" y1="622.1" x2="417.8" y2="622.1" stroke="#222" stroke-width="1.4" />
<line x1="478.8" y1="605.3" x2="478.8" y2="616.5" stroke="#222" stroke-width="1.4" />
<line x1="476.9" y1="605.3" x2="480.7" y2="605.3" stroke="#222" stroke-width="1.4" />
<line x1="476.9" y1="616.5" x2="480.7" y2="616.5" stroke="#222" stroke-width="1.4" />
<line x1="543.8" y1="540.8" x2="543.8" y2="548.8" stroke="#222" stroke-width="1.4" />
<line x1="541.9" y1="540.8" x2="545.7" y2="540.8" stroke="#222" stroke-width="1.4" />
<line x1="541.9" y1="548.8" x2="545.7" y2="548.8" stroke="#222" stroke-width="1.4" />
<line x1="608.9" y1="557.5" x2="608.9" y2="564.5" stroke="#222" stroke-width="1.4" />
<line x1="607" y1="557.5" x2="610.8" y2="557.5" stroke="#222" stroke-width="1.4" />
<line x1="607" y1="564.5" x2="610.8" y2="564.5" stroke="#222" stroke-width="1.4" />
<line x1="382.8" y1="530" x2="382.8" y2="657.4" stroke="#1a1a1a" stroke-width="1.5" />
<line x1="382.8" y1="657.4" x2="641.3" y2="657.4" stroke="#1a1a1a" stroke-width="1.5" />
<line x1="379.2" y1="548" x2="382.8" y2="548" stroke="#1a1a1a" stroke-width="1.3" />
<text x="379.3" y="551" text-anchor="end" font-size="12.2" fill="#1a1a1a" >60%</text>
<line x1="379.2" y1="584.5" x2="382.8" y2="584.5" stroke="#1a1a1a" stroke-width="1.3" />
<text x="379.3" y="587.5" text-anchor="end" font-size="12.2" fill="#1a1a1a" >40%</text>
<line x1="379.2" y1="621.3" x2="382.8" y2="621.3" stroke="#1a1a1a" stroke-width="1.3" />
<text x="379.3" y="624.3" text-anchor="end" font-size="12.2" fill="#1a1a1a" >20%</text>
<line x1="379.2" y1="657.4" x2="382.8" y2="657.4" stroke="#1a1a1a" stroke-width="1.3" />
<text x="379.3" y="660.4" text-anchor="end" font-size="12.2" fill="#1a1a1a" >0%</text>
<text transform="translate(349,595.5) rotate(-90)" text-anchor="middle" font-size="12.1" fill="#1a1a1a" >NADH redox index</text>
<line x1="415.9" y1="597.1" x2="478.8" y2="597.1" stroke="#444" stroke-width="1.2" />
<polyline points="447.3,597.1 447.3,515.9 575.8,515.9 575.8,523.7" fill="none" stroke="#444" stroke-width="1.2" stroke-linejoin="round" />
<polyline points="543.4,531.4 543.4,523.7 608.9,523.7 608.9,548.8" fill="none" stroke="#444" stroke-width="1.2" stroke-linejoin="round" />
<line x1="506.4" y1="507" x2="506.4" y2="512" stroke="#333" stroke-width="0.8" />
<line x1="504.23" y1="508.25" x2="508.57" y2="510.75" stroke="#333" stroke-width="0.8" />
<line x1="504.23" y1="510.75" x2="508.57" y2="508.25" stroke="#333" stroke-width="0.8" />
<line x1="512.1" y1="507" x2="512.1" y2="512" stroke="#333" stroke-width="0.8" />
<line x1="509.93" y1="508.25" x2="514.27" y2="510.75" stroke="#333" stroke-width="0.8" />
<line x1="509.93" y1="510.75" x2="514.27" y2="508.25" stroke="#333" stroke-width="0.8" />
<line x1="517.8" y1="507" x2="517.8" y2="512" stroke="#333" stroke-width="0.8" />
<line x1="515.63" y1="508.25" x2="519.97" y2="510.75" stroke="#333" stroke-width="0.8" />
<line x1="515.63" y1="510.75" x2="519.97" y2="508.25" stroke="#333" stroke-width="0.8" />
<rect x="616.7" y="510.1" width="9.8" height="9.1" fill="#fff" stroke="#1a1a1a" stroke-width="1.2"/>
<text x="630.6" y="519.2" text-anchor="start" font-size="12.2" fill="#1a1a1a" >Controls</text>
<rect x="616.7" y="525.2" width="9.8" height="9.1" fill="#050505" stroke="#1a1a1a" stroke-width="1.2"/>
<text x="630.6" y="534.3" text-anchor="start" font-size="12.2" fill="#1a1a1a" >Patients</text>
<text x="416" y="670" text-anchor="middle" font-size="12.3" fill="#1a1a1a" >C1</text>
<text x="479.7" y="670" text-anchor="middle" font-size="12.3" fill="#1a1a1a" >C2</text>
<text x="544" y="670" text-anchor="middle" font-size="12.3" fill="#1a1a1a" >A381V</text>
<text x="607.6" y="670" text-anchor="middle" font-size="12.3" fill="#1a1a1a" >K238del</text>
<text x="114.1" y="726" text-anchor="start" font-size="14.5" font-weight="bold" fill="#1a1a1a" >SH-SY5Ys</text>
<rect x="88.5" y="780.7" width="34.7" height="113.5" fill="#fff" stroke="#1a1a1a" stroke-width="1.35"/>
<rect x="140.8" y="771.9" width="34.4" height="122.3" fill="#adadad" stroke="#1a1a1a" stroke-width="1.35"/>
<rect x="192.3" y="833" width="34.8" height="61.2" fill="#141216" stroke="#1a1a1a" stroke-width="1.35"/>
<line x1="106.1" y1="770.5" x2="106.1" y2="790.8" stroke="#222" stroke-width="1.45" />
<line x1="102.5" y1="770.5" x2="109.7" y2="770.5" stroke="#222" stroke-width="1.45" />
<line x1="102.5" y1="790.8" x2="109.7" y2="790.8" stroke="#222" stroke-width="1.45" />
<line x1="158.1" y1="768.1" x2="158.1" y2="774.8" stroke="#222" stroke-width="1.45" />
<line x1="154.5" y1="768.1" x2="161.7" y2="768.1" stroke="#222" stroke-width="1.45" />
<line x1="154.5" y1="774.8" x2="161.7" y2="774.8" stroke="#222" stroke-width="1.45" />
<line x1="210.1" y1="822.5" x2="210.1" y2="833" stroke="#222" stroke-width="1.45" />
<line x1="206.5" y1="822.5" x2="213.7" y2="822.5" stroke="#222" stroke-width="1.45" />
<line x1="206.5" y1="833" x2="213.7" y2="833" stroke="#222" stroke-width="1.45" />
<line x1="70.1" y1="767.3" x2="70.1" y2="894.2" stroke="#1a1a1a" stroke-width="1.5" />
<line x1="70.1" y1="894.2" x2="244" y2="894.2" stroke="#1a1a1a" stroke-width="1.5" />
<line x1="63.6" y1="767.3" x2="70.1" y2="767.3" stroke="#1a1a1a" stroke-width="1.3" />
<text x="62" y="770.3" text-anchor="end" font-size="12.2" fill="#1a1a1a" >100%</text>
<line x1="63.6" y1="809.2" x2="70.1" y2="809.2" stroke="#1a1a1a" stroke-width="1.3" />
<text x="62" y="812.2" text-anchor="end" font-size="12.2" fill="#1a1a1a" >80%</text>
<line x1="63.6" y1="851.9" x2="70.1" y2="851.9" stroke="#1a1a1a" stroke-width="1.3" />
<text x="62" y="854.9" text-anchor="end" font-size="12.2" fill="#1a1a1a" >60%</text>
<line x1="63.6" y1="894.2" x2="70.1" y2="894.2" stroke="#1a1a1a" stroke-width="1.3" />
<text x="62" y="897.2" text-anchor="end" font-size="12.2" fill="#1a1a1a" >40%</text>
<text transform="translate(26.8,826.4) rotate(-90)" text-anchor="middle" font-size="12.1" fill="#1a1a1a" >NADH pool (% of control)</text>
<polyline points="106.1,764.7 106.1,756.7 158.4,756.7 158.4,764.7" fill="none" stroke="#444" stroke-width="1.2" stroke-linejoin="round" />
<polyline points="133.3,756.7 133.3,748 210.1,748 210.1,807.3" fill="none" stroke="#444" stroke-width="1.2" stroke-linejoin="round" />
<line x1="207" y1="811.4" x2="207" y2="816.4" stroke="#333" stroke-width="0.8" />
<line x1="204.83" y1="812.65" x2="209.17" y2="815.15" stroke="#333" stroke-width="0.8" />
<line x1="204.83" y1="815.15" x2="209.17" y2="812.65" stroke="#333" stroke-width="0.8" />
<line x1="212.8" y1="811.4" x2="212.8" y2="816.4" stroke="#333" stroke-width="0.8" />
<line x1="210.63" y1="812.65" x2="214.97" y2="815.15" stroke="#333" stroke-width="0.8" />
<line x1="210.63" y1="815.15" x2="214.97" y2="812.65" stroke="#333" stroke-width="0.8" />
<rect x="221.1" y="754.3" width="9.8" height="8.5" fill="#fff" stroke="#1a1a1a" stroke-width="1.2"/>
<text x="235.3" y="762.8" text-anchor="start" font-size="12.2" fill="#1a1a1a" >Untransfected</text>
<rect x="221.1" y="768" width="9.8" height="8.7" fill="#adadad" stroke="#1a1a1a" stroke-width="1.2"/>
<text x="235.3" y="776.7" text-anchor="start" font-size="12.2" fill="#1a1a1a" >SCR</text>
<rect x="221.1" y="782" width="9.8" height="8.5" fill="#141216" stroke="#1a1a1a" stroke-width="1.2"/>
<text x="235.3" y="790.5" text-anchor="start" font-size="12.2" fill="#1a1a1a" >p62 KD</text>
<text x="466.1" y="727" text-anchor="start" font-size="14.5" font-weight="bold" fill="#1a1a1a" >Fibroblasts</text>
<rect x="402.6" y="771.9" width="26.2" height="122.1" fill="#fff" stroke="#1a1a1a" stroke-width="1.1"/>
<rect x="466.4" y="781.3" width="26.3" height="112.7" fill="#fff" stroke="#1a1a1a" stroke-width="1.1"/>
<rect x="530.6" y="848" width="26.9" height="46" fill="#050505" stroke="#1a1a1a" stroke-width="1.1"/>
<rect x="595.2" y="833.3" width="26.7" height="60.7" fill="#050505" stroke="#1a1a1a" stroke-width="1.1"/>
<line x1="415.5" y1="766.8" x2="415.5" y2="777.2" stroke="#222" stroke-width="1.4" />
<line x1="413.6" y1="766.8" x2="417.4" y2="766.8" stroke="#222" stroke-width="1.4" />
<line x1="413.6" y1="777.2" x2="417.4" y2="777.2" stroke="#222" stroke-width="1.4" />
<line x1="480" y1="774.2" x2="480" y2="788.8" stroke="#222" stroke-width="1.4" />
<line x1="478.1" y1="774.2" x2="481.9" y2="774.2" stroke="#222" stroke-width="1.4" />
<line x1="478.1" y1="788.8" x2="481.9" y2="788.8" stroke="#222" stroke-width="1.4" />
<line x1="543.8" y1="840.4" x2="543.8" y2="848" stroke="#222" stroke-width="1.4" />
<line x1="541.9" y1="840.4" x2="545.7" y2="840.4" stroke="#222" stroke-width="1.4" />
<line x1="541.9" y1="848" x2="545.7" y2="848" stroke="#222" stroke-width="1.4" />
<line x1="608.9" y1="823.6" x2="608.9" y2="833.3" stroke="#222" stroke-width="1.4" />
<line x1="607" y1="823.6" x2="610.8" y2="823.6" stroke="#222" stroke-width="1.4" />
<line x1="607" y1="833.3" x2="610.8" y2="833.3" stroke="#222" stroke-width="1.4" />
<line x1="383" y1="767.3" x2="383" y2="894" stroke="#1a1a1a" stroke-width="1.5" />
<line x1="383" y1="894" x2="641.3" y2="894" stroke="#1a1a1a" stroke-width="1.5" />
<line x1="379" y1="767.3" x2="383" y2="767.3" stroke="#1a1a1a" stroke-width="1.3" />
<text x="379" y="770.3" text-anchor="end" font-size="12.2" fill="#1a1a1a" >100%</text>
<line x1="379" y1="809.2" x2="383" y2="809.2" stroke="#1a1a1a" stroke-width="1.3" />
<text x="379" y="812.2" text-anchor="end" font-size="12.2" fill="#1a1a1a" >80%</text>
<line x1="379" y1="851.9" x2="383" y2="851.9" stroke="#1a1a1a" stroke-width="1.3" />
<text x="379" y="854.9" text-anchor="end" font-size="12.2" fill="#1a1a1a" >60%</text>
<line x1="379" y1="894" x2="383" y2="894" stroke="#1a1a1a" stroke-width="1.3" />
<text x="379" y="897" text-anchor="end" font-size="12.2" fill="#1a1a1a" >40%</text>
<text transform="translate(342.5,826.2) rotate(-90)" text-anchor="middle" font-size="12.1" fill="#1a1a1a" >NADH pool (% of control)</text>
<line x1="416" y1="755.9" x2="480.7" y2="755.9" stroke="#444" stroke-width="1.2" />
<polyline points="448.5,755.9 448.5,744.3 575.8,744.3 575.8,800.3" fill="none" stroke="#444" stroke-width="1.2" stroke-linejoin="round" />
<polyline points="543.4,829.5 543.4,800.3 608.9,800.3 608.9,811.4" fill="none" stroke="#444" stroke-width="1.2" stroke-linejoin="round" />
<line x1="506.4" y1="735.7" x2="506.4" y2="740.7" stroke="#333" stroke-width="0.8" />
<line x1="504.23" y1="736.95" x2="508.57" y2="739.45" stroke="#333" stroke-width="0.8" />
<line x1="504.23" y1="739.45" x2="508.57" y2="736.95" stroke="#333" stroke-width="0.8" />
<line x1="512.2" y1="735.7" x2="512.2" y2="740.7" stroke="#333" stroke-width="0.8" />
<line x1="510.03" y1="736.95" x2="514.37" y2="739.45" stroke="#333" stroke-width="0.8" />
<line x1="510.03" y1="739.45" x2="514.37" y2="736.95" stroke="#333" stroke-width="0.8" />
<line x1="518" y1="735.7" x2="518" y2="740.7" stroke="#333" stroke-width="0.8" />
<line x1="515.83" y1="736.95" x2="520.17" y2="739.45" stroke="#333" stroke-width="0.8" />
<line x1="515.83" y1="739.45" x2="520.17" y2="736.95" stroke="#333" stroke-width="0.8" />
<rect x="617.6" y="754.7" width="8.7" height="9" fill="#fff" stroke="#1a1a1a" stroke-width="1.2"/>
<text x="630.8" y="763.7" text-anchor="start" font-size="12.2" fill="#1a1a1a" >Controls</text>
<rect x="617.6" y="769.6" width="8.7" height="9.1" fill="#050505" stroke="#1a1a1a" stroke-width="1.2"/>
<text x="630.8" y="778.7" text-anchor="start" font-size="12.2" fill="#1a1a1a" >Patients</text>
<text x="415.2" y="906" text-anchor="middle" font-size="12.3" fill="#1a1a1a" >C1</text>
<text x="479.8" y="906" text-anchor="middle" font-size="12.3" fill="#1a1a1a" >C2</text>
<text x="544" y="906" text-anchor="middle" font-size="12.3" fill="#1a1a1a" >A381V</text>
<text x="607.6" y="906" text-anchor="middle" font-size="12.3" fill="#1a1a1a" >K238del</text>
</svg>
</body></html>
